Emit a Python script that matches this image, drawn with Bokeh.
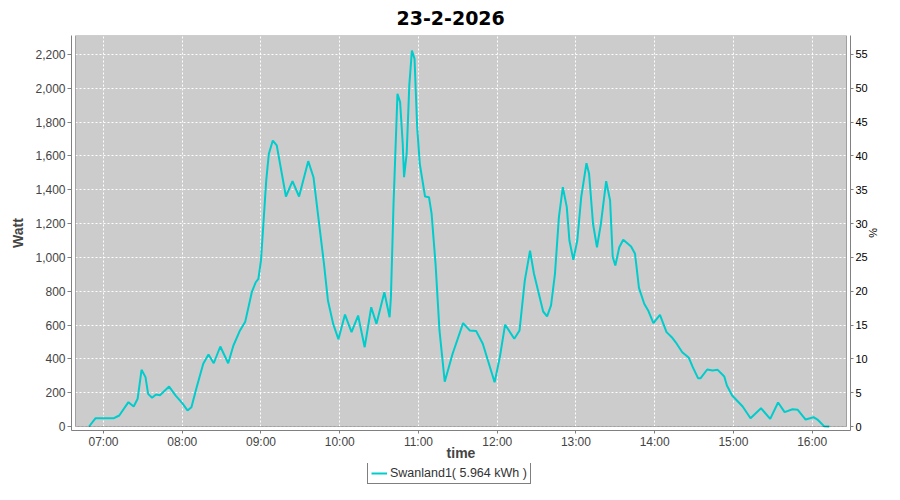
import pandas as pd
from bokeh.plotting import figure
from bokeh.layouts import column
from bokeh.models import (Range1d, LinearAxis, SingleIntervalTicker, FixedTicker,
                          NumeralTickFormatter, DatetimeTickFormatter, BoxAnnotation,
                          Legend, LegendItem, ColumnDataSource)
from bokeh.embed import file_html
from bokeh.resources import INLINE

# ---- data ----
day = "2026-02-23"
times = ["06:49", "06:54", "07:08", "07:12", "07:19", "07:23", "07:26", "07:29", "07:32", "07:34",
         "07:37", "07:40", "07:43", "07:50", "07:55", "08:00", "08:04", "08:07", "08:11", "08:16",
         "08:20", "08:24", "08:29", "08:35", "08:39", "08:44", "08:48", "08:53", "08:56", "08:58",
         "09:00", "09:02", "09:04", "09:06", "09:09", "09:12", "09:15", "09:19", "09:24", "09:29",
         "09:36", "09:40", "09:44", "09:48", "09:51", "09:55", "09:59", "10:04", "10:09", "10:14",
         "10:19", "10:24", "10:28", "10:34", "10:38", "10:39", "10:41", "10:43", "10:44", "10:46",
         "10:48", "10:49", "10:51", "10:53", "10:55", "10:57", "10:59", "11:01", "11:05", "11:08",
         "11:10", "11:13", "11:16", "11:20", "11:26", "11:34", "11:39", "11:44", "11:49", "11:58",
         "12:02", "12:06", "12:13", "12:17", "12:21", "12:25", "12:28", "12:35", "12:38", "12:41",
         "12:44", "12:47", "12:50", "12:53", "12:55", "12:58", "13:01", "13:04", "13:08", "13:10",
         "13:13", "13:16", "13:19", "13:23", "13:26", "13:28", "13:30", "13:33", "13:36", "13:42",
         "13:45", "13:48", "13:52", "13:55", "13:59", "14:04", "14:09", "14:13", "14:16", "14:21",
         "14:26", "14:29", "14:33", "14:35", "14:40", "14:44", "14:48", "14:53", "14:55", "14:59",
         "15:07", "15:13", "15:21", "15:28", "15:34", "15:39", "15:45", "15:49", "15:55", "16:01",
         "16:04", "16:09", "16:13"]
watts = [0, 49, 49, 65, 144, 118, 164, 335, 292, 193,
         170, 189, 185, 236, 183, 138, 95, 114, 232, 371,
         426, 374, 473, 374, 479, 568, 620, 794, 853, 873,
         982, 1218, 1455, 1613, 1691, 1662, 1533, 1360, 1451, 1360,
         1569, 1474, 1218, 962, 745, 607, 516, 662, 558, 656,
         469, 705, 607, 794, 646, 765, 1317, 1750, 1967, 1918,
         1672, 1474, 1613, 2017, 2223, 2174, 1770, 1553, 1360, 1356,
         1258, 962, 568, 265, 430, 611, 568, 564, 489, 262,
         410, 602, 519, 568, 863, 1039, 903, 680, 651, 716,
         903, 1238, 1415, 1297, 1100, 986, 1100, 1356, 1557, 1494,
         1199, 1060, 1199, 1451, 1336, 1002, 952, 1060, 1104, 1064,
         1021, 820, 726, 686, 611, 660, 558, 528, 498, 439,
         406, 351, 286, 286, 337, 331, 335, 296, 242, 183,
         118, 49, 108, 45, 142, 85, 102, 99, 41, 55,
         41, 2, 0]
hour_ticks = ["07:00", "08:00", "09:00", "10:00", "11:00", "12:00", "13:00", "14:00", "15:00", "16:00"]
title_text = "23-2-2026"
series_name = "Swanland1( 5.964 kWh )"
x_view = ("06:38:40", "16:26:08")   # inner plot-area time span
y_view = (0, 2312)                   # inner plot-area watt span
pct_per_watt = 1 / 40.0

LINE_COLOR = "#00CCCC"
TEXT_GRAY = "#444444"
FONT = "Liberation Sans"

def to_ms(t):
    return pd.Timestamp(f"{day} {t}").value / 1e6

xs = [to_ms(t) for t in times]
src = ColumnDataSource(dict(x=xs, y=watts))

x0, x1 = to_ms(x_view[0]), to_ms(x_view[1])
inner_w_px = 771.0
inner_h_px = 391.0
xpad = 4 * (x1 - x0) / inner_w_px
ypad = 4 * (y_view[1] - y_view[0]) / inner_h_px

fig = figure(width=884, height=463, x_axis_type="datetime",
             x_range=Range1d(x0 - xpad, x1 + xpad),
             y_range=Range1d(y_view[0] - ypad, y_view[1]),
             output_backend="svg", toolbar_location=None,
             min_border_left=71, min_border_right=34, min_border_top=35, min_border_bottom=33)
fig.background_fill_color = "white"
fig.border_fill_color = "white"
fig.outline_line_color = None

# gray plot area and black outline (inner region, axes are offset 4px)
fig.add_layout(BoxAnnotation(left=x0, right=x1, bottom=y_view[0], top=y_view[1],
                             fill_color="#CCCCCC", fill_alpha=1.0, line_color=None, level="image"))
fig.add_layout(BoxAnnotation(left=x0, right=x1, bottom=y_view[0], top=y_view[1],
                             fill_alpha=0.0, line_color="black", line_width=1, level="annotation"))

# title
fig.title.text = title_text
fig.title.align = "left"
fig.title.offset = 325
fig.title.vertical_align = "top"
fig.title.text_font = "DejaVu Sans"
fig.title.text_font_size = "19px"
fig.title.text_font_style = "bold"
fig.title.text_color = "black"
fig.title.standoff = 17

# x axis
xa = fig.xaxis[0]
xa.ticker = FixedTicker(ticks=[to_ms(t) for t in hour_ticks])
xa.formatter = DatetimeTickFormatter(hours="%H:%M", minutes="%H:%M", days="%H:%M")
xa.axis_label = "time"
xa.axis_label_text_font = FONT
xa.axis_label_text_font_size = "14px"
xa.axis_label_text_font_style = "bold"
xa.axis_label_text_color = TEXT_GRAY
xa.axis_label_standoff = -7
xa.major_label_text_font = FONT
xa.major_label_text_font_size = "12px"
xa.major_label_text_color = TEXT_GRAY
xa.major_label_standoff = 1
xa.axis_line_color = "#808080"
xa.major_tick_line_color = "#808080"
xa.major_tick_out = 3
xa.major_tick_in = 0
xa.minor_tick_line_color = None

# left y axis
ya = fig.yaxis[0]
ya.ticker = SingleIntervalTicker(interval=200)
ya.formatter = NumeralTickFormatter(format="0,0")
ya.axis_label = "Watt"
ya.axis_label_text_font = FONT
ya.axis_label_text_font_size = "14px"
ya.axis_label_text_font_style = "bold"
ya.axis_label_text_color = TEXT_GRAY
ya.axis_label_standoff = 6
ya.major_label_text_font = FONT
ya.major_label_text_font_size = "12px"
ya.major_label_text_color = TEXT_GRAY
ya.major_label_standoff = 2
ya.axis_line_color = "#808080"
ya.major_tick_line_color = "#808080"
ya.major_tick_out = 4
ya.major_tick_in = 0
ya.minor_tick_line_color = None

# right % axis
fig.extra_y_ranges = {"pct": Range1d((y_view[0] - ypad) * pct_per_watt, y_view[1] * pct_per_watt)}
ra = LinearAxis(y_range_name="pct", ticker=SingleIntervalTicker(interval=5), axis_label="%")
ra.axis_label_text_font = FONT
ra.axis_label_text_font_size = "11px"
ra.axis_label_text_font_style = "normal"
ra.axis_label_text_color = "black"
ra.axis_label_standoff = -4
ra.major_label_text_font = FONT
ra.major_label_text_font_size = "11px"
ra.major_label_text_color = "black"
ra.major_label_standoff = 1
ra.axis_line_color = "#808080"
ra.major_tick_line_color = "#808080"
ra.major_tick_out = 3
ra.major_tick_in = 0
ra.minor_tick_line_color = None
fig.add_layout(ra, "right")

# grid
for g in (fig.xgrid[0], fig.ygrid[0]):
    g.grid_line_color = "white"
    g.grid_line_dash = "2 2"
    g.grid_line_width = 1
fig.ygrid[0].ticker = ya.ticker

fig.line("x", "y", source=src, line_color=LINE_COLOR, line_width=2)

# legend strip below the chart (frames of a column are aligned, so x is from x=71)
leg_fig = figure(width=884, height=21, x_range=Range1d(0, 1), y_range=Range1d(0, 1),
                 output_backend="svg", toolbar_location=None,
                 x_axis_location=None, y_axis_location=None, min_border=0)
leg_fig.outline_line_color = None
leg_fig.xgrid.visible = False
leg_fig.ygrid.visible = False
# sample line for the legend key (outside the strip's visible range)
leg_src = ColumnDataSource(dict(x=xs[:2], y=watts[:2]))
lr = leg_fig.line("x", "y", source=leg_src, line_color=LINE_COLOR, line_width=2)
legend = Legend(items=[LegendItem(label=series_name, renderers=[lr])],
                location=(296, 0), orientation="horizontal",
                border_line_color="black", border_line_width=1,
                label_text_font=FONT, label_text_font_size="12.5px",
                label_text_color="#333333", glyph_width=16, glyph_height=12,
                label_standoff=3, padding=3, margin=0, spacing=0,
                background_fill_color="white")
leg_fig.add_layout(legend, "center")

p = column(fig, leg_fig, spacing=0)
open("out.html", "w").write(file_html(p, INLINE))
